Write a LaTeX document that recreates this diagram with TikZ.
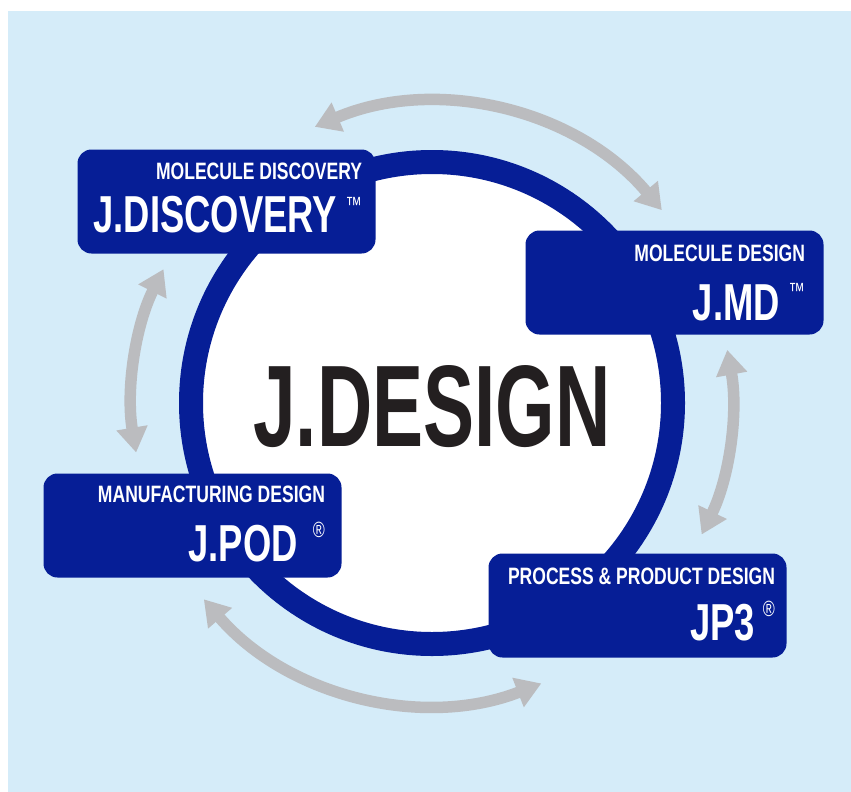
\documentclass[tikz,border=0pt]{standalone}
\usepackage{fontspec}
\newfontfamily\condfont[FakeStretch=0.74]{Liberation Sans}
\newfontfamily\namefont[FakeStretch=0.70]{Liberation Sans}
\newfontfamily\titlefont[FakeStretch=0.66]{Liberation Sans}
\usetikzlibrary{positioning, arrows.meta}
\definecolor{jblue}{RGB}{6,30,150}
\definecolor{jsky}{RGB}{213,236,249}
\definecolor{jgray}{RGB}{187,188,191}
\definecolor{jdark}{RGB}{35,31,32}

\begin{document}
\begin{tikzpicture}[x=1pt, y=1pt,
  tool node/.style={rectangle, rounded corners=14pt, fill=jblue, minimum width=298pt, minimum height=104pt, inner sep=0pt},
  topic/.style={font=\condfont\bfseries\fontsize{23.7}{24}\selectfont, text=white, inner sep=0pt, anchor=base east},
  toolname/.style={font=\namefont\bfseries\fontsize{52}{52}\selectfont, text=white, inner sep=0pt, anchor=base east},
  trademark/.style={font=\condfont\fontsize{22}{22}\selectfont, text=white, inner sep=0pt, anchor=north east},
  cycle arrow/.style={jgray, line width=11.5pt, {Triangle[width=30pt,length=25pt]}-{Triangle[width=30pt,length=25pt]}}]

\useasboundingbox (0,0) rectangle (851,-792);
\fill[white] (0,0) rectangle (851,-792);
\fill[jsky] (8,-11) rectangle (851,-792);

% the ring
\node[circle, draw=jblue, line width=24pt, fill=white, minimum size=482pt, inner sep=0pt] (ring) at (432,-403) {};
\node[font=\titlefont\bfseries\fontsize{116}{116}\selectfont, text=jdark, anchor=base, inner sep=0pt] (title) at ([yshift=-43pt]ring.center) {J.DESIGN};

% arrows round the ring
\draw[cycle arrow] ([shift={(113:300)}]ring.center) arc[start angle=113, end angle=40, radius=300];
\draw[cycle arrow] ([shift={(10.2:300)}]ring.center) arc[start angle=10.2, end angle=-26, radius=300];
\draw[cycle arrow] ([shift={(291.3:301)}]ring.center) arc[start angle=291.3, end angle=220.7, radius=301];
\draw[cycle arrow] ([shift={(189.5:300)}]ring.center) arc[start angle=189.5, end angle=153.5, radius=300];

% the four boxes
\node[tool node] (disc) at (226.5,-201.5) {};
\node[tool node] (md) at (674.5,-282.5) {};
\node[tool node] (pod) at (192.5,-525.5) {};
\node[tool node] (jp3) at (637.5,-605.5) {};

\node[topic] (disc topic) at ([shift={(-13.5,-30.5)}]disc.north east) {MOLECULE DISCOVERY};
\node[toolname] (disc name) at (337,-232) {J.DISCOVERY};
\node[trademark] (disc tm) at (362,-197) {™};

\node[topic] (md topic) at ([shift={(-18.5,-31.5)}]md.north east) {MOLECULE DESIGN};
\node[toolname] (md name) at (780,-320) {J.MD};
\node[trademark] (md tm) at (805,-283) {™};

\node[topic] (pod topic) at ([shift={(-16.5,-29.5)}]pod.north east) {MANUFACTURING DESIGN};
\node[toolname] (pod name) at (298,-561) {J.POD};
\node[trademark] (pod tm) at (325,-522) {®};

\node[topic] (jp3 topic) at ([shift={(-11.5,-31.5)}]jp3.north east) {PROCESS \& PRODUCT DESIGN};
\node[toolname] (jp3 name) at (755,-640) {JP3};
\node[trademark] (jp3 tm) at (775,-601) {®};

\end{tikzpicture}
\end{document}
